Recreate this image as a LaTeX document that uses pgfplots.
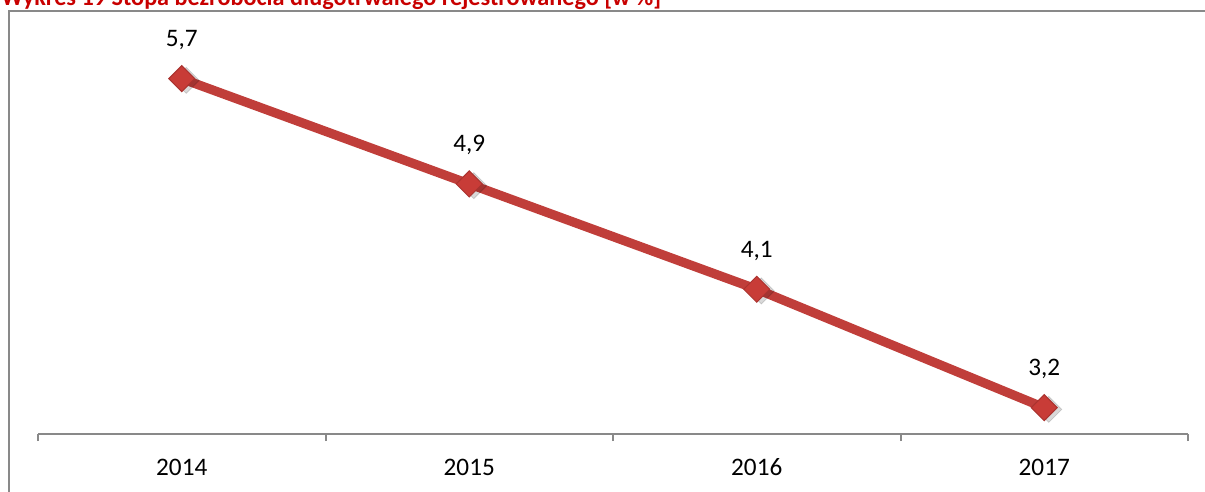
\documentclass[border=0pt]{standalone}
\usepackage{pgfplots}
\pgfplotsset{compat=1.18}
\usepackage{fontspec}
\setmainfont{Carlito}
\definecolor{linered}{RGB}{192,62,58}
\definecolor{markred}{RGB}{200,60,55}
\definecolor{titlered}{RGB}{200,0,0}
\definecolor{axgray}{RGB}{137,137,137}
\begin{document}
\begin{tikzpicture}
\useasboundingbox (0,0) rectangle (602.5bp,246bp);
\clip (0,0) rectangle (602.5bp,246bp);
\begin{scope}[x=0.5bp,y=0.5bp]
\draw[axgray, line width=1bp] (9,481) rectangle (1230,-20);
\node[anchor=base west, inner sep=0pt, text=titlered, font=\fontsize{12.1bp}{14bp}\selectfont\bfseries] at (1,486.5) {Wykres 19 Stopa bezrobocia długotrwałego rejestrowanego [w \%]};
\end{scope}
\begin{axis}[
  at={(19bp,29bp)}, anchor=origin,
  scale only axis, width=575bp, height=197.4bp,
  xmin=0.5, xmax=4.5, ymin=3, ymax=6,
  clip=false,
  hide y axis,
  axis x line=bottom,
  axis line style={-, draw=axgray, line width=1bp},
  xtick={1,2,3,4},
  xticklabels={2014,2015,2016,2017},
  major tick length=0pt,
  extra x ticks={0.5,1.5,2.5,3.5,4.5},
  extra x tick labels={},
  extra x tick style={major tick length=3.5bp, xtick align=outside, tick style={draw=axgray, line width=1bp}},
  xticklabel style={anchor=base, yshift=-21bp, font=\fontsize{12.6bp}{15bp}\selectfont},
  /pgf/number format/assume math mode=true,
]
\addplot[only marks, mark=square*, mark size=4.6bp, mark options={rotate=45, fill=black, draw=none, opacity=0.15, xshift=1bp, yshift=-2.2bp}]
  coordinates {(1,5.7) (2,4.9) (3,4.1) (4,3.2)};
\addplot[linered, line width=4.6bp, mark=square*, mark size=4.6bp,
  mark options={rotate=45, fill=markred, draw=markred!85!black, line width=0.5bp},
  nodes near coords,
  point meta=explicit,
  every node near coord/.append style={anchor=base, yshift=16bp, text=black, font=\fontsize{12.6bp}{15bp}\selectfont},
  nodes near coords={\pgfmathprintnumber[fixed, precision=1, fixed zerofill, use comma, assume math mode=true]{\pgfplotspointmeta}},
]
  coordinates {(1,5.7) [5.7] (2,4.9) [4.9] (3,4.1) [4.1] (4,3.2) [3.2]};
\end{axis}
\end{tikzpicture}
\end{document}
